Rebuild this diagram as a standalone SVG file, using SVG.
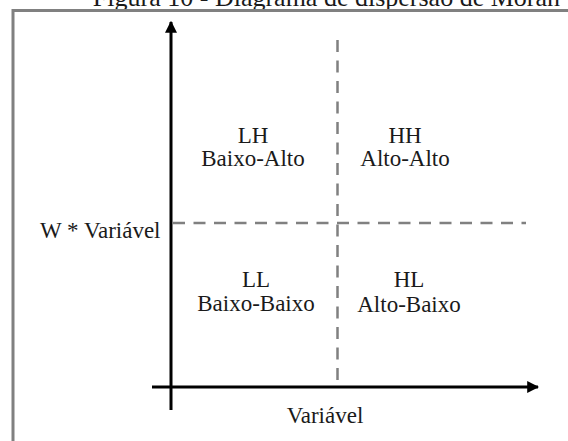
<svg xmlns="http://www.w3.org/2000/svg" width="568" height="441" viewBox="0 0 568 441">
<style>
text{font-family:"Liberation Serif","Times New Roman",serif;fill:#1a1a1a;}
.q{font-size:23px;text-anchor:middle;}
.ax{stroke:#000;stroke-width:3;fill:none;}
.dash{stroke:#808080;stroke-width:2.5;stroke-dasharray:12 8.5;fill:none;}
</style>
<defs>
<marker id="arr" viewBox="0 0 10 10" refX="9" refY="5" markerWidth="4" markerHeight="4" orient="auto" markerUnits="strokeWidth">
<path d="M0,0 L10,5 L0,10 z" fill="#000"/>
</marker>
</defs>
<rect width="568" height="441" fill="#fff"/>
<text x="560" y="6" font-size="26" text-anchor="end">Figura 10 - Diagrama de dispersão de Moran</text>
<path d="M13,441 V10.5 H568" stroke="#808080" stroke-width="3" fill="none"/>
<g id="connectors">
<line class="dash" x1="173" y1="223" x2="526" y2="223"/>
<line class="dash" x1="337.5" y1="40" x2="337.5" y2="386"/>
<line class="ax" x1="171" y1="410" x2="171" y2="22" marker-end="url(#arr)"/>
<line class="ax" x1="152" y1="387" x2="538" y2="387" marker-end="url(#arr)"/>
</g>
<g id="lh"><text class="q" x="253" y="143">LH</text><text class="q" x="253" y="166">Baixo-Alto</text></g>
<g id="hh"><text class="q" x="405" y="143">HH</text><text class="q" x="405" y="166">Alto-Alto</text></g>
<g id="ll"><text class="q" x="256" y="287">LL</text><text class="q" x="256" y="311">Baixo-Baixo</text></g>
<g id="hl"><text class="q" x="409" y="287">HL</text><text class="q" x="409" y="312">Alto-Baixo</text></g>
<g id="ylabel"><text x="40" y="238" font-size="23">W * Variável</text></g>
<g id="xlabel"><text class="q" x="325" y="423">Variável</text></g>
</svg>
